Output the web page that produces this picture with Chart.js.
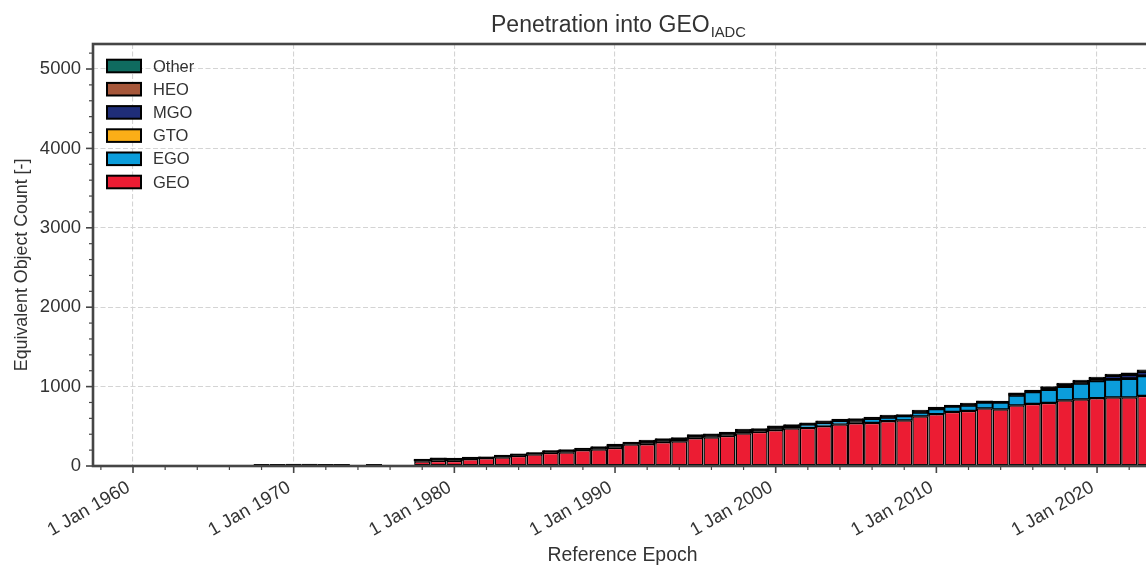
<!DOCTYPE html>
<html>
<head>
<meta charset="utf-8">
<title>Penetration into GEO</title>
<script src="https://cdn.jsdelivr.net/npm/chart.js@4.4.1/dist/chart.umd.min.js"></script>
<style>
  html, body { margin: 0; padding: 0; background: #fff; overflow: hidden; }
  #wrap { width: 1146px; height: 565px; overflow: hidden; }
  canvas { display: block; }
</style>
</head>
<body>
<div id="wrap"><canvas id="geoChart" width="1165" height="565"></canvas></div>
<script>
// yearly equivalent object counts per orbit class (bars centred on 1 Jan)
const years = [1968, 1969, 1970, 1971, 1972, 1973, 1975,
  1978, 1979, 1980, 1981, 1982, 1983, 1984, 1985, 1986, 1987, 1988, 1989,
  1990, 1991, 1992, 1993, 1994, 1995, 1996, 1997, 1998, 1999,
  2000, 2001, 2002, 2003, 2004, 2005, 2006, 2007, 2008, 2009,
  2010, 2011, 2012, 2013, 2014, 2015, 2016, 2017, 2018, 2019,
  2020, 2021, 2022, 2023];

const geo = [24, 26, 27, 27, 26, 25, 24,
  59, 67, 67, 88, 101, 109, 130, 147, 168, 172, 202, 210,
  231, 273, 277, 302, 311, 353, 361, 382, 412, 432,
  453, 475, 483, 504, 525, 542, 545, 567, 575, 626,
  655, 684, 697, 727, 714, 764, 785, 798, 827, 840,
  856, 865, 865, 886];

const ego = [null, null, null, null, null, null, null,
  10, 14, 12, 8, 5, 10, 8, 8, 10, 14, 8, 13,
  17, 10, 19, 17, 18, 17, 17, 17, 20, 15,
  21, 18, 33, 33, 38, 24, 47, 42, 51, 46,
  59, 63, 63, 71, 84, 122, 143, 159, 168, 197,
  210, 222, 231, 243];

const gto = [null, null, null, null, null, null, null,
  5, 6, 6, 4, 2, 5, 4, 4, 5, 6, 4, 6,
  8, 5, 9, 8, 9, 8, 8, 8, 10, 8,
  10, 9, 8, 9, 8, 9, 6, 9, 6, 9,
  8, 5, 9, 6, 5, 10, 7, 12, 13, 12,
  13, 8, 9, 10];

const mgo = [null, null, null, null, null, null, null,
  3, 4, 4, 3, 2, 3, 3, 3, 3, 4, 3, 4,
  6, 3, 6, 6, 6, 5, 6, 6, 7, 5,
  7, 6, 6, 7, 6, 7, 5, 7, 5, 7,
  6, 4, 7, 5, 4, 8, 6, 12, 14, 13,
  18, 40, 42, 44];

const heo = [null, null, null, null, null, null, null,
  2, 3, 3, 2, 1, 2, 2, 2, 2, 3, 1, 3,
  4, 2, 4, 4, 4, 4, 4, 4, 5, 3,
  5, 4, 4, 5, 4, 5, 4, 5, 3, 5,
  4, 3, 5, 4, 3, 6, 5, 7, 7, 6,
  8, 7, 9, 10];

const other = [null, null, null, null, null, null, null,
  5, 6, 5, 4, 2, 5, 4, 4, 5, 7, 4, 7,
  7, 5, 8, 7, 8, 7, 7, 7, 8, 7,
  8, 8, 8, 9, 7, 9, 6, 8, 6, 8,
  7, 5, 9, 6, 5, 9, 7, 11, 12, 11,
  12, 13, 15, 16];

// axis ticks: labelled majors plus unlabelled minors
const xTickYears = [1958, 1960, 1962, 1964, 1966, 1968, 1970, 1972, 1974, 1976, 1978,
  1980, 1982, 1984, 1986, 1988, 1990, 1992, 1994, 1996, 1998, 2000, 2002, 2004,
  2006, 2008, 2010, 2012, 2014, 2016, 2018, 2020, 2022];
const xTickLabels = ['1 Jan 1960', '1 Jan 1970', '1 Jan 1980', '1 Jan 1990',
  '1 Jan 2000', '1 Jan 2010', '1 Jan 2020'];
const yTickValues = [0, 200, 400, 600, 800, 1000, 1200, 1400, 1600, 1800, 2000, 2200,
  2400, 2600, 2800, 3000, 3200, 3400, 3600, 3800, 4000, 4200, 4400, 4600, 4800,
  5000, 5200];
const yTickLabels = ['0', '1000', '2000', '3000', '4000', '5000'];

const FONT = "'Liberation Sans', Arial, Helvetica, sans-serif";
const TEXT = '#333333';
const AXIS = '#454545';
const GRID = '#d4d4d4';
const COLORS = {
  GEO: '#ec1c33', EGO: '#0b9ddb', GTO: '#fbae17',
  MGO: '#1f2d78', HEO: '#a6573a', Other: '#0f6b5f'
};

// segments thinner than their own outline show only the black edge
function series(label, values, base) {
  const color = COLORS[label];
  return {
    label: label,
    data: years.map((yr, i) => ({ x: yr, y: values[i] })),
    backgroundColor: base ? color : c => (c.raw && c.raw.y < 30 ? '#000000' : color),
    borderColor: '#000000',
    borderWidth: 1.5,
    borderSkipped: false,
    inflateAmount: base ? 0 : 0.5,
    barPercentage: 1,
    categoryPercentage: 1
  };
}

const xLabel = v => {
  const hit = xTickLabels.find(t => t.endsWith(' ' + v));
  return hit || '';
};
const yLabel = v => (yTickLabels.includes(String(v)) ? String(v) : '');

// frame (all four spines) and outward tick marks
const frameTicks = {
  id: 'frameTicks',
  afterDatasetsDraw(chart) {
    const { ctx, chartArea: a, scales: { x, y } } = chart;
    ctx.save();
    ctx.strokeStyle = AXIS;
    xTickYears.forEach(v => {
      const px = x.getPixelForValue(v);
      const major = xLabel(v) !== '';
      ctx.lineWidth = major ? 1.6 : 1.2;
      ctx.beginPath();
      ctx.moveTo(px, a.bottom);
      ctx.lineTo(px, a.bottom + (major ? 7 : 4));
      ctx.stroke();
    });
    yTickValues.forEach(v => {
      const py = y.getPixelForValue(v);
      const major = yLabel(v) !== '';
      ctx.lineWidth = major ? 1.6 : 1.2;
      ctx.beginPath();
      ctx.moveTo(a.left, py);
      ctx.lineTo(a.left - (major ? 7 : 4), py);
      ctx.stroke();
    });
    ctx.lineWidth = 2.6;
    ctx.strokeRect(a.left, a.top, a.right - a.left, a.bottom - a.top);
    ctx.restore();
  }
};

// legend in the upper left of the plot, top entry = last dataset
const cornerLegend = {
  id: 'cornerLegend',
  afterDatasetsDraw(chart) {
    const { ctx } = chart;
    const sets = chart.data.datasets.slice().reverse();
    ctx.save();
    ctx.font = '16.5px ' + FONT;
    ctx.textBaseline = 'middle';
    ctx.textAlign = 'left';
    sets.forEach((ds, i) => {
      const cy = 66 + i * 23.2;
      ctx.fillStyle = COLORS[ds.label];
      ctx.fillRect(107, cy - 6.3, 34, 12.6);
      ctx.lineWidth = 2;
      ctx.strokeStyle = '#000';
      ctx.strokeRect(107, cy - 6.3, 34, 12.6);
      ctx.fillStyle = TEXT;
      ctx.fillText(ds.label, 153, cy + 1);
    });
    ctx.restore();
  }
};

// plot title with the IADC subscript
const subTitle = {
  id: 'subTitle',
  afterDraw(chart) {
    const { ctx } = chart;
    const main = 'Penetration into GEO';
    const sub = 'IADC';
    ctx.save();
    ctx.fillStyle = TEXT;
    ctx.textBaseline = 'alphabetic';
    ctx.font = '23px ' + FONT;
    const wMain = ctx.measureText(main).width;
    ctx.font = '14.8px ' + FONT;
    const wSub = ctx.measureText(sub).width;
    const x0 = 618.5 - (wMain + wSub + 1) / 2;
    ctx.font = '23px ' + FONT;
    ctx.fillText(main, x0, 32);
    ctx.font = '14.8px ' + FONT;
    ctx.fillText(sub, x0 + wMain + 1, 37);
    ctx.restore();
  }
};

new Chart(document.getElementById('geoChart').getContext('2d'), {
  type: 'bar',
  data: {
    datasets: [
      series('GEO', geo, true),
      series('EGO', ego, false),
      series('GTO', gto, false),
      series('MGO', mgo, false),
      series('HEO', heo, false),
      series('Other', other, false)
    ]
  },
  options: {
    responsive: false,
    animation: false,
    events: [],
    layout: { padding: { left: 0, top: 44, right: 13, bottom: 0 } },
    plugins: { legend: { display: false }, title: { display: false }, tooltip: { enabled: false } },
    scales: {
      x: {
        type: 'linear',
        stacked: true,
        min: 1957.51,
        max: 2023.42,
        offset: false,
        afterBuildTicks: s => { s.ticks = xTickYears.map(v => ({ value: v })); },
        afterFit: s => { s.height = 99; },
        grid: {
          offset: false,
          drawTicks: false,
          lineWidth: 1.1,
          color: c => (c.tick && xLabel(c.tick.value) !== '' ? GRID : 'transparent')
        },
        border: { display: false, dash: [5, 2.5] },
        ticks: {
          autoSkip: false,
          minRotation: 30,
          maxRotation: 30,
          padding: 8,
          color: TEXT,
          font: { family: FONT, size: 18.5 },
          // trailing space keeps the label end just left of its tick
          callback: v => (xLabel(v) ? xLabel(v) + ' ' : '')
        },
        title: {
          display: true,
          text: 'Reference Epoch',
          color: TEXT,
          font: { family: FONT, size: 19.4, lineHeight: 1 },
          padding: { top: 0, bottom: 0 }
        }
      },
      y: {
        stacked: true,
        min: 0,
        max: 5315,
        afterBuildTicks: s => { s.ticks = yTickValues.map(v => ({ value: v })); },
        afterFit: s => { s.width = 93; },
        grid: {
          drawTicks: false,
          lineWidth: 1.1,
          color: c => (c.tick && yLabel(c.tick.value) !== '' && c.tick.value > 0 ? GRID : 'transparent')
        },
        border: { display: false, dash: [5, 2.5] },
        ticks: {
          autoSkip: false,
          padding: 12,
          color: TEXT,
          font: { family: FONT, size: 18.5 },
          callback: v => yLabel(v)
        },
        title: {
          display: true,
          text: 'Equivalent Object Count [-]    ',
          color: TEXT,
          font: { family: FONT, size: 17.8, lineHeight: 1 },
          padding: { top: 13.5, bottom: 0 }
        }
      }
    }
  },
  plugins: [frameTicks, cornerLegend, subTitle]
});
</script>
</body>
</html>
